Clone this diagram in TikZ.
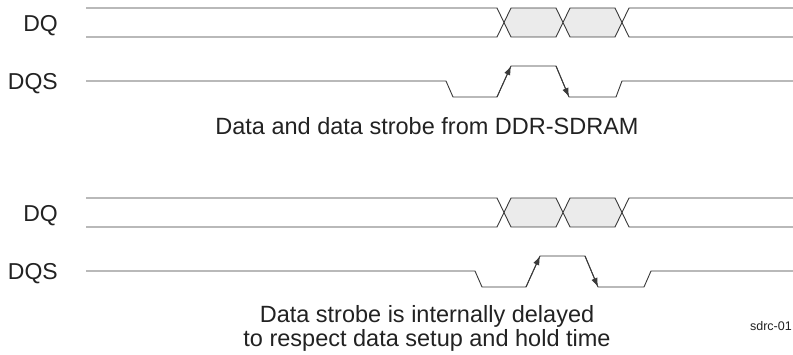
\documentclass[tikz,border=0pt]{standalone}
\usepackage{fontspec}
\setmainfont{Liberation Sans}
\usetikzlibrary{arrows.meta}
\definecolor{wave}{HTML}{3A3A3A}
\definecolor{eye}{HTML}{EBEBEB}
\definecolor{txt}{HTML}{222222}
\tikzset{
  sig/.style={draw=wave, line width=0.9pt, line join=miter},
  eyebox/.style={sig, fill=eye},
  edgetip/.style={sig, -{Latex[length=9pt,width=6.5pt]}},
  lbl/.style={font=\fontsize{23}{26}\selectfont, text=txt, inner sep=0pt, anchor=base east},
  captxt/.style={font=\fontsize{23.5}{26}\selectfont, text=txt, inner sep=0pt, anchor=base},
  tagtxt/.style={font=\fontsize{12.5}{14}\selectfont, text=txt, inner sep=0pt, anchor=base east}
}
\begin{document}
\begin{tikzpicture}[x=1pt,y=-1pt]
\useasboundingbox (0,0) rectangle (793,355);
\fill[white] (0,0) rectangle (793,355);

% ---------- DQ waveforms (top and bottom) ----------
\foreach \off in {0,190}{
\begin{scope}[yshift=-\off pt]
  \draw[eyebox] (504,22.5) -- (511,8) -- (556,8) -- (563,22.5) -- (556,37) -- (511,37) -- cycle;
  \draw[eyebox] (563,22.5) -- (570,8) -- (615,8) -- (622,22.5) -- (615,37) -- (570,37) -- cycle;
  \draw[sig] (86,8) -- (497,8) -- (504,22.5) -- (497,37) -- (86,37);
  \draw[sig] (793,8) -- (629,8) -- (622,22.5) -- (629,37) -- (793,37);
\end{scope}
}

% ---------- DQS top ----------
\draw[sig] (86,81) -- (446,81) -- (453,97) -- (497,97) -- (511,66) -- (556,66)
  -- (569,97) -- (616,97) -- (622,81) -- (793,81);
\draw[edgetip] (497,97) -- (511,66);
\draw[edgetip] (556,66) -- (569,97);

% ---------- DQS bottom (delayed) ----------
\draw[sig] (86,271) -- (475,271) -- (482,287) -- (526,287) -- (540,256) -- (585,256)
  -- (598,287) -- (644,287) -- (651,271) -- (793,271);
\draw[edgetip] (526,287) -- (540,256);
\draw[edgetip] (585,256) -- (598,287);

% ---------- labels ----------
\node[lbl] (dq1) at (58,32) {DQ};
\node[lbl] (dqs1) at (58,90) {DQS};
\node[lbl] (dq2) at (58,222) {DQ};
\node[lbl] (dqs2) at (58,280) {DQS};

\node[captxt] (cap1) at (427,135) {Data and data strobe from DDR-SDRAM};
\node[captxt] (cap2) at (427,323) {Data strobe is internally delayed};
\node[captxt] (cap3) at (427,347) {to respect data setup and hold time};

\node[tagtxt] (id) at (792,331) {sdrc-01};
\end{tikzpicture}
\end{document}
